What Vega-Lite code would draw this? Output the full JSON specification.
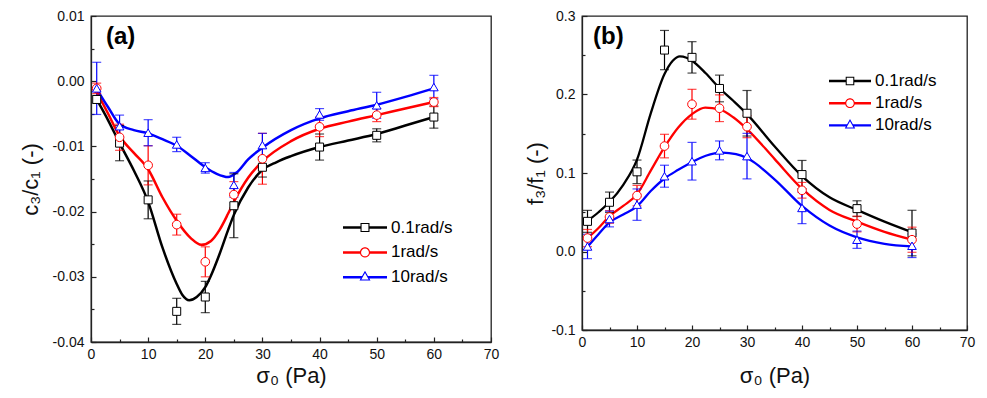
{
  "$schema": "https://vega.github.io/schema/vega-lite/v6.json",
  "autosize": {"type": "none"},
  "padding": {"left": 91, "top": 16, "right": 896, "bottom": 382},
  "background": "#ffffff",
  "config": {
    "font": "Liberation Sans",
    "view": {"stroke": "#222222", "strokeWidth": 1.3},
    "axis": {
      "grid": false,
      "domainColor": "#222222",
      "domainWidth": 1.3,
      "tickColor": "#222222",
      "tickWidth": 1.2,
      "labelFont": "Liberation Sans",
      "labelFontSize": 14,
      "labelColor": "#111111",
      "labelOverlap": false,
      "labelFlush": false,
      "titleFont": "Liberation Sans",
      "titleFontSize": 22,
      "titleFontWeight": "normal",
      "titleColor": "#111111"
    }
  },
  "datasets": {
    "lp": [
      {"s": "0.1rad/s", "x": 1, "y": -0.0028, "lo": -0.0034, "hi": -0.0022},
      {"s": "0.1rad/s", "x": 5, "y": -0.0095, "lo": -0.0122, "hi": -0.0068},
      {"s": "0.1rad/s", "x": 10, "y": -0.0182, "lo": -0.0211, "hi": -0.0153},
      {"s": "0.1rad/s", "x": 15, "y": -0.0353, "lo": -0.0373, "hi": -0.0333},
      {"s": "0.1rad/s", "x": 20, "y": -0.0331, "lo": -0.0355, "hi": -0.0307},
      {"s": "0.1rad/s", "x": 25, "y": -0.0191, "lo": -0.024, "hi": -0.0142},
      {"s": "0.1rad/s", "x": 30, "y": -0.0132, "lo": -0.0147, "hi": -0.0117},
      {"s": "0.1rad/s", "x": 40, "y": -0.0101, "lo": -0.0121, "hi": -0.0081},
      {"s": "0.1rad/s", "x": 50, "y": -0.0083, "lo": -0.0093, "hi": -0.0073},
      {"s": "0.1rad/s", "x": 60, "y": -0.0055, "lo": -0.0072, "hi": -0.0038},
      {"s": "1rad/s", "x": 1, "y": -0.0011, "lo": -0.0019, "hi": -0.0003},
      {"s": "1rad/s", "x": 5, "y": -0.0086, "lo": -0.0106, "hi": -0.0066},
      {"s": "1rad/s", "x": 10, "y": -0.0129, "lo": -0.0159, "hi": -0.0099},
      {"s": "1rad/s", "x": 15, "y": -0.022, "lo": -0.0236, "hi": -0.0204},
      {"s": "1rad/s", "x": 20, "y": -0.0277, "lo": -0.03, "hi": -0.0254},
      {"s": "1rad/s", "x": 25, "y": -0.0174, "lo": -0.0194, "hi": -0.0154},
      {"s": "1rad/s", "x": 30, "y": -0.0119, "lo": -0.0158, "hi": -0.008},
      {"s": "1rad/s", "x": 40, "y": -0.007, "lo": -0.0085, "hi": -0.0055},
      {"s": "1rad/s", "x": 50, "y": -0.0052, "lo": -0.0062, "hi": -0.0042},
      {"s": "1rad/s", "x": 60, "y": -0.0032, "lo": -0.0039, "hi": -0.0025},
      {"s": "10rad/s", "x": 1, "y": -0.0011, "lo": -0.0051, "hi": 0.0029},
      {"s": "10rad/s", "x": 5, "y": -0.0069, "lo": -0.0086, "hi": -0.0052},
      {"s": "10rad/s", "x": 10, "y": -0.0079, "lo": -0.0099, "hi": -0.0059},
      {"s": "10rad/s", "x": 15, "y": -0.0097, "lo": -0.0108, "hi": -0.0086},
      {"s": "10rad/s", "x": 20, "y": -0.0133, "lo": -0.0141, "hi": -0.0125},
      {"s": "10rad/s", "x": 25, "y": -0.0159, "lo": -0.0178, "hi": -0.014},
      {"s": "10rad/s", "x": 30, "y": -0.0098, "lo": -0.0116, "hi": -0.008},
      {"s": "10rad/s", "x": 40, "y": -0.0051, "lo": -0.006, "hi": -0.0042},
      {"s": "10rad/s", "x": 50, "y": -0.0037, "lo": -0.0057, "hi": -0.0017},
      {"s": "10rad/s", "x": 60, "y": -0.0009, "lo": -0.0027, "hi": 0.0009}
    ],
    "lc": [
      {"s": "0.1rad/s", "x": 1, "y": -0.0028},
      {"s": "0.1rad/s", "x": 3, "y": -0.006},
      {"s": "0.1rad/s", "x": 5, "y": -0.0095},
      {"s": "0.1rad/s", "x": 7.5, "y": -0.0137},
      {"s": "0.1rad/s", "x": 10, "y": -0.0185},
      {"s": "0.1rad/s", "x": 12.5, "y": -0.0255},
      {"s": "0.1rad/s", "x": 15, "y": -0.0311},
      {"s": "0.1rad/s", "x": 16, "y": -0.0328},
      {"s": "0.1rad/s", "x": 17.2, "y": -0.0336},
      {"s": "0.1rad/s", "x": 18.5, "y": -0.0331},
      {"s": "0.1rad/s", "x": 20, "y": -0.0316},
      {"s": "0.1rad/s", "x": 21, "y": -0.0298},
      {"s": "0.1rad/s", "x": 22.5, "y": -0.0265},
      {"s": "0.1rad/s", "x": 24, "y": -0.0228},
      {"s": "0.1rad/s", "x": 25, "y": -0.0205},
      {"s": "0.1rad/s", "x": 27.5, "y": -0.0163},
      {"s": "0.1rad/s", "x": 30, "y": -0.0136},
      {"s": "0.1rad/s", "x": 32.5, "y": -0.0124},
      {"s": "0.1rad/s", "x": 35, "y": -0.0115},
      {"s": "0.1rad/s", "x": 40, "y": -0.0101},
      {"s": "0.1rad/s", "x": 45, "y": -0.0091},
      {"s": "0.1rad/s", "x": 50, "y": -0.0081},
      {"s": "0.1rad/s", "x": 55, "y": -0.0068},
      {"s": "0.1rad/s", "x": 60, "y": -0.0055},
      {"s": "1rad/s", "x": 1, "y": -0.0016},
      {"s": "1rad/s", "x": 3, "y": -0.005},
      {"s": "1rad/s", "x": 5, "y": -0.0084},
      {"s": "1rad/s", "x": 7.5, "y": -0.011},
      {"s": "1rad/s", "x": 10, "y": -0.0135},
      {"s": "1rad/s", "x": 12.5, "y": -0.0178},
      {"s": "1rad/s", "x": 15, "y": -0.0214},
      {"s": "1rad/s", "x": 17.5, "y": -0.0241},
      {"s": "1rad/s", "x": 19.3, "y": -0.0251},
      {"s": "1rad/s", "x": 21, "y": -0.0245},
      {"s": "1rad/s", "x": 22.5, "y": -0.0228},
      {"s": "1rad/s", "x": 24, "y": -0.0203},
      {"s": "1rad/s", "x": 25, "y": -0.0185},
      {"s": "1rad/s", "x": 27.5, "y": -0.0148},
      {"s": "1rad/s", "x": 30, "y": -0.0123},
      {"s": "1rad/s", "x": 35, "y": -0.0092},
      {"s": "1rad/s", "x": 40, "y": -0.0073},
      {"s": "1rad/s", "x": 45, "y": -0.0062},
      {"s": "1rad/s", "x": 50, "y": -0.0052},
      {"s": "1rad/s", "x": 55, "y": -0.0042},
      {"s": "1rad/s", "x": 60, "y": -0.0032},
      {"s": "10rad/s", "x": 1, "y": -0.0012},
      {"s": "10rad/s", "x": 3, "y": -0.004},
      {"s": "10rad/s", "x": 5, "y": -0.0066},
      {"s": "10rad/s", "x": 7.5, "y": -0.0075},
      {"s": "10rad/s", "x": 10, "y": -0.008},
      {"s": "10rad/s", "x": 12.5, "y": -0.0089},
      {"s": "10rad/s", "x": 15, "y": -0.0099},
      {"s": "10rad/s", "x": 17.5, "y": -0.0115},
      {"s": "10rad/s", "x": 20, "y": -0.0132},
      {"s": "10rad/s", "x": 22, "y": -0.0142},
      {"s": "10rad/s", "x": 24, "y": -0.0147},
      {"s": "10rad/s", "x": 25.5, "y": -0.014},
      {"s": "10rad/s", "x": 27.5, "y": -0.012},
      {"s": "10rad/s", "x": 30, "y": -0.0102},
      {"s": "10rad/s", "x": 35, "y": -0.0075},
      {"s": "10rad/s", "x": 40, "y": -0.0057},
      {"s": "10rad/s", "x": 45, "y": -0.0046},
      {"s": "10rad/s", "x": 50, "y": -0.0036},
      {"s": "10rad/s", "x": 55, "y": -0.0024},
      {"s": "10rad/s", "x": 60, "y": -0.0011}
    ],
    "rp": [
      {"s": "0.1rad/s", "x": 1, "y": 0.0384, "lo": 0.0244, "hi": 0.0524},
      {"s": "0.1rad/s", "x": 5, "y": 0.0627, "lo": 0.0497, "hi": 0.0757},
      {"s": "0.1rad/s", "x": 10, "y": 0.1015, "lo": 0.0865, "hi": 0.1165},
      {"s": "0.1rad/s", "x": 15, "y": 0.2566, "lo": 0.2316, "hi": 0.2816},
      {"s": "0.1rad/s", "x": 20, "y": 0.2473, "lo": 0.2273, "hi": 0.2673},
      {"s": "0.1rad/s", "x": 25, "y": 0.2077, "lo": 0.1907, "hi": 0.2247},
      {"s": "0.1rad/s", "x": 30, "y": 0.1761, "lo": 0.1471, "hi": 0.2051},
      {"s": "0.1rad/s", "x": 40, "y": 0.098, "lo": 0.08, "hi": 0.116},
      {"s": "0.1rad/s", "x": 50, "y": 0.0546, "lo": 0.0446, "hi": 0.0646},
      {"s": "0.1rad/s", "x": 60, "y": 0.0235, "lo": -0.0055, "hi": 0.0525},
      {"s": "1rad/s", "x": 1, "y": 0.0171, "lo": 0.0061, "hi": 0.0281},
      {"s": "1rad/s", "x": 5, "y": 0.044, "lo": 0.036, "hi": 0.052},
      {"s": "1rad/s", "x": 10, "y": 0.0712, "lo": 0.0582, "hi": 0.0842},
      {"s": "1rad/s", "x": 15, "y": 0.1343, "lo": 0.1193, "hi": 0.1493},
      {"s": "1rad/s", "x": 20, "y": 0.1876, "lo": 0.1686, "hi": 0.2066},
      {"s": "1rad/s", "x": 25, "y": 0.1825, "lo": 0.1655, "hi": 0.1995},
      {"s": "1rad/s", "x": 30, "y": 0.159, "lo": 0.145, "hi": 0.173},
      {"s": "1rad/s", "x": 40, "y": 0.078, "lo": 0.068, "hi": 0.088},
      {"s": "1rad/s", "x": 50, "y": 0.035, "lo": 0.025, "hi": 0.045},
      {"s": "1rad/s", "x": 60, "y": 0.015, "lo": -0.001, "hi": 0.031},
      {"s": "10rad/s", "x": 1, "y": 0.0064, "lo": -0.0091, "hi": 0.0219},
      {"s": "10rad/s", "x": 5, "y": 0.0414, "lo": 0.0314, "hi": 0.0514},
      {"s": "10rad/s", "x": 10, "y": 0.0597, "lo": 0.0397, "hi": 0.0797},
      {"s": "10rad/s", "x": 15, "y": 0.0959, "lo": 0.0819, "hi": 0.1099},
      {"s": "10rad/s", "x": 20, "y": 0.115, "lo": 0.091, "hi": 0.139},
      {"s": "10rad/s", "x": 25, "y": 0.1288, "lo": 0.1168, "hi": 0.1408},
      {"s": "10rad/s", "x": 30, "y": 0.1215, "lo": 0.0925, "hi": 0.1505},
      {"s": "10rad/s", "x": 40, "y": 0.0555, "lo": 0.0355, "hi": 0.0755},
      {"s": "10rad/s", "x": 50, "y": 0.015, "lo": 0.004, "hi": 0.026},
      {"s": "10rad/s", "x": 60, "y": 0.0073, "lo": -0.0077, "hi": 0.0223}
    ],
    "rc": [
      {"s": "0.1rad/s", "x": 1, "y": 0.039},
      {"s": "0.1rad/s", "x": 3, "y": 0.05},
      {"s": "0.1rad/s", "x": 5, "y": 0.063},
      {"s": "0.1rad/s", "x": 7.5, "y": 0.085},
      {"s": "0.1rad/s", "x": 10, "y": 0.117},
      {"s": "0.1rad/s", "x": 12.5, "y": 0.176},
      {"s": "0.1rad/s", "x": 15, "y": 0.226},
      {"s": "0.1rad/s", "x": 16.5, "y": 0.243},
      {"s": "0.1rad/s", "x": 17.8, "y": 0.2486},
      {"s": "0.1rad/s", "x": 19, "y": 0.2468},
      {"s": "0.1rad/s", "x": 20, "y": 0.243},
      {"s": "0.1rad/s", "x": 22.5, "y": 0.227},
      {"s": "0.1rad/s", "x": 25, "y": 0.208},
      {"s": "0.1rad/s", "x": 27.5, "y": 0.192},
      {"s": "0.1rad/s", "x": 30, "y": 0.175},
      {"s": "0.1rad/s", "x": 35, "y": 0.134},
      {"s": "0.1rad/s", "x": 40, "y": 0.096},
      {"s": "0.1rad/s", "x": 45, "y": 0.069},
      {"s": "0.1rad/s", "x": 50, "y": 0.053},
      {"s": "0.1rad/s", "x": 55, "y": 0.038},
      {"s": "0.1rad/s", "x": 60, "y": 0.0245},
      {"s": "1rad/s", "x": 1, "y": 0.017},
      {"s": "1rad/s", "x": 3, "y": 0.03},
      {"s": "1rad/s", "x": 5, "y": 0.045},
      {"s": "1rad/s", "x": 7.5, "y": 0.058},
      {"s": "1rad/s", "x": 10, "y": 0.073},
      {"s": "1rad/s", "x": 12.5, "y": 0.103},
      {"s": "1rad/s", "x": 15, "y": 0.133},
      {"s": "1rad/s", "x": 17.5, "y": 0.158},
      {"s": "1rad/s", "x": 20, "y": 0.175},
      {"s": "1rad/s", "x": 22.4, "y": 0.1834},
      {"s": "1rad/s", "x": 25, "y": 0.181},
      {"s": "1rad/s", "x": 27.5, "y": 0.171},
      {"s": "1rad/s", "x": 30, "y": 0.156},
      {"s": "1rad/s", "x": 35, "y": 0.118},
      {"s": "1rad/s", "x": 40, "y": 0.08},
      {"s": "1rad/s", "x": 45, "y": 0.053},
      {"s": "1rad/s", "x": 50, "y": 0.038},
      {"s": "1rad/s", "x": 55, "y": 0.025},
      {"s": "1rad/s", "x": 60, "y": 0.015},
      {"s": "10rad/s", "x": 1, "y": 0.006},
      {"s": "10rad/s", "x": 3, "y": 0.022},
      {"s": "10rad/s", "x": 5, "y": 0.037},
      {"s": "10rad/s", "x": 7.5, "y": 0.047},
      {"s": "10rad/s", "x": 10, "y": 0.0575},
      {"s": "10rad/s", "x": 12.5, "y": 0.077},
      {"s": "10rad/s", "x": 15, "y": 0.093},
      {"s": "10rad/s", "x": 17.5, "y": 0.104},
      {"s": "10rad/s", "x": 20, "y": 0.114},
      {"s": "10rad/s", "x": 22.5, "y": 0.122},
      {"s": "10rad/s", "x": 25.5, "y": 0.126},
      {"s": "10rad/s", "x": 28, "y": 0.124},
      {"s": "10rad/s", "x": 30, "y": 0.119},
      {"s": "10rad/s", "x": 35, "y": 0.092},
      {"s": "10rad/s", "x": 40, "y": 0.058},
      {"s": "10rad/s", "x": 45, "y": 0.033},
      {"s": "10rad/s", "x": 50, "y": 0.018},
      {"s": "10rad/s", "x": 55, "y": 0.0098},
      {"s": "10rad/s", "x": 60, "y": 0.0064}
    ]
  },
  "hconcat": [
    {
      "width": 400,
      "height": 326,
      "title": {"text": "(a)", "anchor": "start", "frame": "group", "offset": 0, "dx": 15, "dy": 59, "baseline": "alphabetic", "fontSize": 24, "fontWeight": "bold", "font": "Liberation Sans", "color": "#000000"},
      "resolve": {"axis": {"x": "independent", "y": "independent"}},
      "layer": [
        {
          "data": {"name": "lp"},
          "mark": {"type": "point", "filled": true, "size": 0, "strokeWidth": 0},
          "encoding": {
            "x": {"field": "x", "type": "quantitative", "scale": {"domain": [0, 70], "nice": false}, "axis": null},
            "y": {"field": "y", "type": "quantitative", "scale": {"domain": [-0.04, 0.01], "nice": false}, "axis": null},
            "color": {"field": "s", "type": "nominal", "scale": {"domain": ["0.1rad/s", "1rad/s", "10rad/s"], "range": ["#000000", "#ff0000", "#0000ff"]},
              "legend": {"orient": "none", "legendX": 252, "legendY": 200.5, "title": null, "symbolSize": 1936, "clipHeight": 22, "labelFont": "Liberation Sans", "labelFontSize": 17, "labelColor": "#000000", "rowPadding": 2.9, "padding": 0, "labelOffset": 4, "symbolStrokeWidth": 0, "symbolOpacity": 1}},
            "shape": {"field": "s", "type": "nominal", "scale": {"domain": ["0.1rad/s", "1rad/s", "10rad/s"], "range": [
              "M-1,-0.057H-0.205V0.057H-1Z M0.205,-0.057H1V0.057H0.205Z M-0.205,-0.205H0.205V0.205H-0.205Z M-0.155,-0.155V0.155H0.155V-0.155Z",
              "M-1,-0.057H-0.223V0.057H-1Z M0.223,-0.057H1V0.057H0.223Z M0.23,0A0.23,0.23 0 1,1 -0.23,0A0.23,0.23 0 1,1 0.23,0Z M0.178,0A0.178,0.178 0 1,0 -0.178,0A0.178,0.178 0 1,0 0.178,0Z",
              "M-1,-0.057H-0.145V0.057H-1Z M0.145,-0.057H1V0.057H0.145Z M0,-0.3L0.25,0.15L-0.25,0.15Z M0,-0.198L-0.165,0.1L0.165,0.1Z"]},
              "legend": {"orient": "none", "legendX": 252, "legendY": 200.5, "title": null, "symbolSize": 1936, "clipHeight": 22, "labelFont": "Liberation Sans", "labelFontSize": 17, "labelColor": "#000000", "rowPadding": 2.9, "padding": 0, "labelOffset": 4, "symbolStrokeWidth": 0, "symbolOpacity": 1}}
          }
        },
        {
          "data": {"name": "lc"},
          "mark": {"type": "line", "interpolate": "monotone", "strokeWidth": 2.5},
          "encoding": {
            "x": {"field": "x", "type": "quantitative", "scale": {"domain": [0, 70], "nice": false},
              "axis": {"orient": "bottom", "values": [0, 10, 20, 30, 40, 50, 60, 70], "format": "d", "tickSize": -5,
                "labelPadding": 10, "title": "σ₀ (Pa)", "titlePadding": 4}},
            "y": {"field": "y", "type": "quantitative", "scale": {"domain": [-0.04, 0.01], "nice": false},
              "axis": {"orient": "left", "values": [-0.04, -0.03, -0.02, -0.01, 0, 0.01], "format": ".2f",
                "labelExpr": "replace(datum.label, '−', '-')", "tickSize": -5,
                "labelPadding": 12, "title": "c₃/c₁ (-)", "titlePadding": 10}},
            "color": {"field": "s", "type": "nominal", "scale": {"domain": ["0.1rad/s", "1rad/s", "10rad/s"], "range": ["#000000", "#ff0000", "#0000ff"]}, "legend": null}
          }
        },
        {
          "data": {"name": "lp"},
          "mark": {"type": "rule", "strokeWidth": 1.2},
          "encoding": {
            "x": {"field": "x", "type": "quantitative", "scale": {"domain": [0, 70], "nice": false},
              "axis": {"orient": "bottom", "values": [5, 15, 25, 35, 45, 55, 65], "tickSize": -3, "labels": false, "domain": false, "title": null}},
            "y": {"field": "lo", "type": "quantitative", "scale": {"domain": [-0.04, 0.01], "nice": false},
              "axis": {"orient": "left", "values": [-0.035, -0.025, -0.015, -0.005, 0.005], "tickSize": -3, "labels": false, "domain": false, "title": null}},
            "y2": {"field": "hi"},
            "color": {"field": "s", "type": "nominal", "scale": {"domain": ["0.1rad/s", "1rad/s", "10rad/s"], "range": ["#000000", "#ff0000", "#0000ff"]}, "legend": null}
          }
        },
        {
          "data": {"name": "lp"},
          "transform": [{"fold": ["lo", "hi"], "as": ["k", "v"]}],
          "mark": {"type": "tick", "orient": "horizontal", "size": 9, "thickness": 1.2},
          "encoding": {
            "x": {"field": "x", "type": "quantitative", "scale": {"domain": [0, 70], "nice": false}, "axis": null},
            "y": {"field": "v", "type": "quantitative", "scale": {"domain": [-0.04, 0.01], "nice": false}, "axis": null},
            "color": {"field": "s", "type": "nominal", "scale": {"domain": ["0.1rad/s", "1rad/s", "10rad/s"], "range": ["#000000", "#ff0000", "#0000ff"]}, "legend": null}
          }
        },
        {
          "data": {"name": "lp"},
          "transform": [{"filter": "datum.s == '0.1rad/s'"}],
          "mark": {"type": "point", "shape": "square", "size": 64, "fill": "#ffffff", "stroke": "#000000", "strokeWidth": 1, "opacity": 1},
          "encoding": {
            "x": {"field": "x", "type": "quantitative", "scale": {"domain": [0, 70], "nice": false}, "axis": null},
            "y": {"field": "y", "type": "quantitative", "scale": {"domain": [-0.04, 0.01], "nice": false}, "axis": null}
          }
        },
        {
          "data": {"name": "lp"},
          "transform": [{"filter": "datum.s == '1rad/s'"}],
          "mark": {"type": "point", "shape": "circle", "size": 75, "fill": "#ffffff", "stroke": "#ff0000", "strokeWidth": 1, "opacity": 1},
          "encoding": {
            "x": {"field": "x", "type": "quantitative", "scale": {"domain": [0, 70], "nice": false}, "axis": null},
            "y": {"field": "y", "type": "quantitative", "scale": {"domain": [-0.04, 0.01], "nice": false}, "axis": null}
          }
        },
        {
          "data": {"name": "lp"},
          "transform": [{"filter": "datum.s == '10rad/s'"}],
          "mark": {"type": "point", "shape": "triangle-up", "size": 75, "fill": "#ffffff", "stroke": "#0000ff", "strokeWidth": 1, "opacity": 1},
          "encoding": {
            "x": {"field": "x", "type": "quantitative", "scale": {"domain": [0, 70], "nice": false}, "axis": null},
            "y": {"field": "y", "type": "quantitative", "scale": {"domain": [-0.04, 0.01], "nice": false}, "axis": null}
          }
        }
      ]
    },
    {
      "width": 385,
      "height": 314,
      "title": {"text": "(b)", "anchor": "start", "frame": "group", "offset": 0, "dx": 11, "dy": 59, "baseline": "alphabetic", "fontSize": 24, "fontWeight": "bold", "font": "Liberation Sans", "color": "#000000"},
      "resolve": {"axis": {"x": "independent", "y": "independent"}},
      "layer": [
        {
          "data": {"name": "rp"},
          "mark": {"type": "point", "filled": true, "size": 0, "strokeWidth": 0},
          "encoding": {
            "x": {"field": "x", "type": "quantitative", "scale": {"domain": [0, 70], "nice": false}, "axis": null},
            "y": {"field": "y", "type": "quantitative", "scale": {"domain": [-0.1, 0.3], "nice": false}, "axis": null},
            "color": {"field": "s", "type": "nominal", "scale": {"domain": ["0.1rad/s", "1rad/s", "10rad/s"], "range": ["#000000", "#ff0000", "#0000ff"]},
              "legend": {"orient": "none", "legendX": 247, "legendY": 54.5, "title": null, "symbolSize": 1764, "clipHeight": 21, "labelFont": "Liberation Sans", "labelFontSize": 17, "labelColor": "#000000", "rowPadding": 1.2, "padding": 0, "labelOffset": 4, "symbolStrokeWidth": 0, "symbolOpacity": 1}},
            "shape": {"field": "s", "type": "nominal", "scale": {"domain": ["0.1rad/s", "1rad/s", "10rad/s"], "range": [
              "M-1,-0.057H-0.205V0.057H-1Z M0.205,-0.057H1V0.057H0.205Z M-0.205,-0.205H0.205V0.205H-0.205Z M-0.155,-0.155V0.155H0.155V-0.155Z",
              "M-1,-0.057H-0.223V0.057H-1Z M0.223,-0.057H1V0.057H0.223Z M0.23,0A0.23,0.23 0 1,1 -0.23,0A0.23,0.23 0 1,1 0.23,0Z M0.178,0A0.178,0.178 0 1,0 -0.178,0A0.178,0.178 0 1,0 0.178,0Z",
              "M-1,-0.057H-0.145V0.057H-1Z M0.145,-0.057H1V0.057H0.145Z M0,-0.3L0.25,0.15L-0.25,0.15Z M0,-0.198L-0.165,0.1L0.165,0.1Z"]},
              "legend": {"orient": "none", "legendX": 247, "legendY": 54.5, "title": null, "symbolSize": 1764, "clipHeight": 21, "labelFont": "Liberation Sans", "labelFontSize": 17, "labelColor": "#000000", "rowPadding": 1.2, "padding": 0, "labelOffset": 4, "symbolStrokeWidth": 0, "symbolOpacity": 1}}
          }
        },
        {
          "data": {"name": "rc"},
          "mark": {"type": "line", "interpolate": "monotone", "strokeWidth": 2.3},
          "encoding": {
            "x": {"field": "x", "type": "quantitative", "scale": {"domain": [0, 70], "nice": false},
              "axis": {"orient": "bottom", "values": [0, 10, 20, 30, 40, 50, 60, 70], "format": "d", "tickSize": -5,
                "labelPadding": 10, "title": "σ₀ (Pa)", "titlePadding": 16}},
            "y": {"field": "y", "type": "quantitative", "scale": {"domain": [-0.1, 0.3], "nice": false},
              "axis": {"orient": "left", "values": [-0.1, 0, 0.1, 0.2, 0.3], "format": ".1f",
                "labelExpr": "replace(datum.label, '−', '-')", "tickSize": -5,
                "labelPadding": 12, "title": "f₃/f₁ (-)", "titlePadding": 3}},
            "color": {"field": "s", "type": "nominal", "scale": {"domain": ["0.1rad/s", "1rad/s", "10rad/s"], "range": ["#000000", "#ff0000", "#0000ff"]}, "legend": null}
          }
        },
        {
          "data": {"name": "rp"},
          "mark": {"type": "rule", "strokeWidth": 1.2},
          "encoding": {
            "x": {"field": "x", "type": "quantitative", "scale": {"domain": [0, 70], "nice": false},
              "axis": {"orient": "bottom", "values": [5, 15, 25, 35, 45, 55, 65], "tickSize": -3, "labels": false, "domain": false, "title": null}},
            "y": {"field": "lo", "type": "quantitative", "scale": {"domain": [-0.1, 0.3], "nice": false},
              "axis": {"orient": "left", "values": [-0.05, 0.05, 0.15, 0.25], "tickSize": -3, "labels": false, "domain": false, "title": null}},
            "y2": {"field": "hi"},
            "color": {"field": "s", "type": "nominal", "scale": {"domain": ["0.1rad/s", "1rad/s", "10rad/s"], "range": ["#000000", "#ff0000", "#0000ff"]}, "legend": null}
          }
        },
        {
          "data": {"name": "rp"},
          "transform": [{"fold": ["lo", "hi"], "as": ["k", "v"]}],
          "mark": {"type": "tick", "orient": "horizontal", "size": 9, "thickness": 1.2},
          "encoding": {
            "x": {"field": "x", "type": "quantitative", "scale": {"domain": [0, 70], "nice": false}, "axis": null},
            "y": {"field": "v", "type": "quantitative", "scale": {"domain": [-0.1, 0.3], "nice": false}, "axis": null},
            "color": {"field": "s", "type": "nominal", "scale": {"domain": ["0.1rad/s", "1rad/s", "10rad/s"], "range": ["#000000", "#ff0000", "#0000ff"]}, "legend": null}
          }
        },
        {
          "data": {"name": "rp"},
          "transform": [{"filter": "datum.s == '0.1rad/s'"}],
          "mark": {"type": "point", "shape": "square", "size": 64, "fill": "#ffffff", "stroke": "#000000", "strokeWidth": 1, "opacity": 1},
          "encoding": {
            "x": {"field": "x", "type": "quantitative", "scale": {"domain": [0, 70], "nice": false}, "axis": null},
            "y": {"field": "y", "type": "quantitative", "scale": {"domain": [-0.1, 0.3], "nice": false}, "axis": null}
          }
        },
        {
          "data": {"name": "rp"},
          "transform": [{"filter": "datum.s == '1rad/s'"}],
          "mark": {"type": "point", "shape": "circle", "size": 75, "fill": "#ffffff", "stroke": "#ff0000", "strokeWidth": 1, "opacity": 1},
          "encoding": {
            "x": {"field": "x", "type": "quantitative", "scale": {"domain": [0, 70], "nice": false}, "axis": null},
            "y": {"field": "y", "type": "quantitative", "scale": {"domain": [-0.1, 0.3], "nice": false}, "axis": null}
          }
        },
        {
          "data": {"name": "rp"},
          "transform": [{"filter": "datum.s == '10rad/s'"}],
          "mark": {"type": "point", "shape": "triangle-up", "size": 75, "fill": "#ffffff", "stroke": "#0000ff", "strokeWidth": 1, "opacity": 1},
          "encoding": {
            "x": {"field": "x", "type": "quantitative", "scale": {"domain": [0, 70], "nice": false}, "axis": null},
            "y": {"field": "y", "type": "quantitative", "scale": {"domain": [-0.1, 0.3], "nice": false}, "axis": null}
          }
        }
      ]
    }
  ],
  "spacing": 91,
  "bounds": "flush",
  "resolve": {"scale": {"color": "independent", "shape": "independent"}, "legend": {"color": "independent", "shape": "independent"}}
}
